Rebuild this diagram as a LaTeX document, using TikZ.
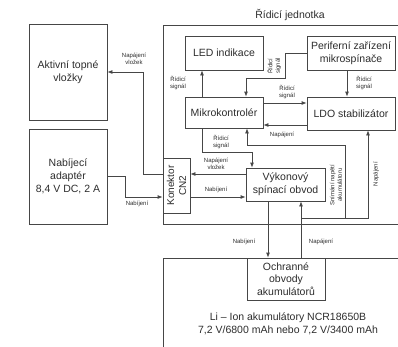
\documentclass[tikz,border=0pt]{standalone}
\usepackage{fontspec}
\setmainfont{Liberation Sans}
\usetikzlibrary{arrows.meta}
\definecolor{LnCol}{RGB}{70,70,70}
\definecolor{TxCol}{RGB}{45,45,45}
\tikzset{
  nd_blk/.style={
    rectangle, draw=LnCol, fill=white, line width=0.8pt,
    align=center, text=TxCol, inner sep=1pt,
    font=\fontsize{10.5}{13}\selectfont},
  nd_frm/.style={
    rectangle, draw=LnCol, line width=0.8pt, inner sep=0pt},
  nd_txt/.style={
    align=center, text=TxCol, font=\fontsize{10.5}{13}\selectfont},
  lbl/.style={
    align=center, text=TxCol, inner sep=0.5pt,
    font=\fontsize{6}{7.5}\selectfont},
  arr/.style={-{Latex[length=5pt,width=4pt]}, draw=LnCol, line width=0.8pt},
  ln/.style={draw=LnCol, line width=0.8pt},
}

\begin{document}
\begin{tikzpicture}[x=1pt,y=-1pt]
\useasboundingbox (0,0) rectangle (398,346);

%% frames
\node[nd_frm, minimum width=240, minimum height=199] at (283,124.5) (rj){};
\node[nd_txt] at (290,15) (rjlbl){Řídicí jednotka};
\node[nd_frm, minimum width=240, minimum height=96] at (283,306) (aku){};
\node[nd_txt] at (288,323.5) (akutxt){Li – Ion akumulátory NCR18650B\\7,2 V/6800 mAh nebo 7,2 V/3400 mAh};

%% outside
\node[nd_blk, minimum width=78, minimum height=96] at (68,72)    (topne){Aktivní topné\\vložky};
\node[nd_blk, minimum width=78, minimum height=95] at (68,176.5) (adapt){Nabíjecí\\adaptér\\8,4 V DC, 2 A};

%% control unit
\node[nd_blk, minimum width=78, minimum height=34] at (224,53)    (led){LED indikace};
\node[nd_blk, minimum width=88, minimum height=34] at (351,53)    (peri){Periferní zařízení\\mikrospínače};
\node[nd_blk, minimum width=78, minimum height=31] at (224,112.5) (mcu){Mikrokontrolér};
\node[nd_blk, minimum width=88, minimum height=33] at (351,113.5) (ldo){LDO stabilizátor};
\node[nd_blk, rotate=90, minimum width=55, minimum height=27,
      font=\fontsize{10}{12}\selectfont] at (176.5,185.5) (cn2){Konektor\\CN2};
\node[nd_blk, minimum width=79, minimum height=33] at (285.5,184.5) (vyk){Výkonový\\spínací obvod};

%% battery
\node[nd_blk, minimum width=78, minimum height=42,
      font=\fontsize{10.5}{12.5}\selectfont] at (286,279) (ochr){Ochranné\\obvody\\akumulátorů};

%% bend points
\coordinate (jV) at (143,174);
\coordinate (jN) at (125,197);
\coordinate (kA) at (202,152);
\coordinate (kB) at (252,152);
\coordinate (pA) at (285,78);
\coordinate (pB) at (246,78);
\coordinate (sA) at (285,103);
\coordinate (sB) at (285,125);
\coordinate (mA) at (345,145);
\coordinate (mB) at (247,145);
\coordinate (bA) at (301,218);
\coordinate (bB) at (345,218);
\coordinate (bC) at (368,218);
\coordinate (bD) at (268,218);

\draw[arr] (cn2.north |- jV) -- (jV) |- (topne.east);
\draw[arr] (adapt.east) -| (jN) -- (cn2.north |- jN);
\draw[arr] (cn2.south |- jN) -- (vyk.west |- jN);
\draw[arr] (vyk.west |- jV) -- (cn2.south |- jV);

\draw[arr] (mcu.south -| kA) -- (kA) -- (kB) -- (vyk.north -| kB);
\draw[arr] (mcu.north -| kA) -- (led.south -| kA);
\draw[arr] (peri.west) -| (pA) -- (pB) -- (mcu.north -| pB);
\draw[arr] ([xshift=-4pt]peri.south) -- ([xshift=-4pt]ldo.north);
\draw[arr] (mcu.east |- sA) -- (ldo.west |- sA);
\draw[arr] (ldo.west |- sB) -- (mcu.east |- sB);

\draw[arr] (ochr.north -| bA) -- (vyk.south -| bA);
\draw[arr] (bA) -- (bC) -- (ldo.south -| bC);
\draw[arr] (bB) -- (mA) -- (mB) -- (mcu.south -| mB);
\draw[arr] (vyk.south -| bD) -- (ochr.north -| bD);

%% labels
\node[lbl] at (134,59)  (l1){Napájení\\vložek};
\node[lbl] at (137,204) (l2){Nabíjení};
\node[lbl] at (216,190) (l3){Nabíjení};
\node[lbl] at (216,164) (l4){Napájení\\vložek};
\node[lbl] at (221,142) (l5){Řídicí\\signál};
\node[lbl] at (178,83)  (l6){Řídicí\\signál};
\node[lbl, rotate=90] at (274,66) (l7){Řídicí\\signál};
\node[lbl] at (364,83)  (l8){Řídicí\\signál};
\node[lbl] at (287,92)  (l9){Řídicí\\signál};
\node[lbl] at (282,135) (l10){Napájení};
\node[lbl, rotate=90] at (336,185) (l11){Snímání napětí\\akumulátoru};
\node[lbl, rotate=90] at (376,174) (l12){Napájení};
\node[lbl] at (244,242) (l13){Nabíjení};
\node[lbl] at (321,242) (l14){Napájení};

\end{tikzpicture}
\end{document}
